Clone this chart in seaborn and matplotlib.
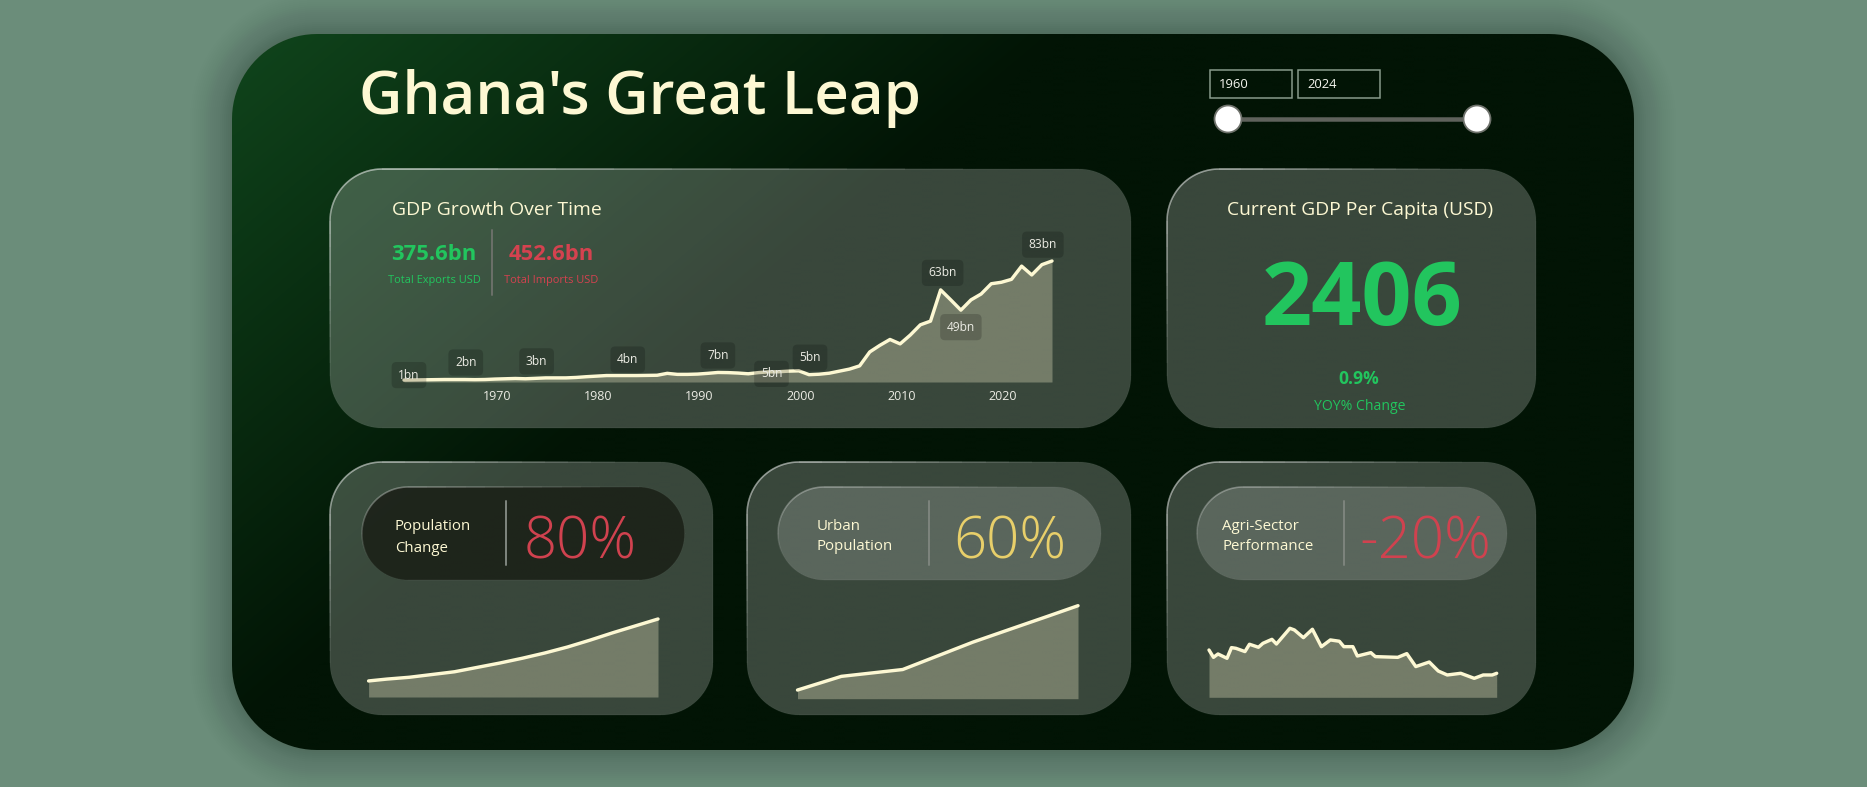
import numpy as np
import matplotlib
matplotlib.use("Agg")
import matplotlib.pyplot as plt
import seaborn as sns
from matplotlib.collections import LineCollection
from matplotlib.patches import Circle, PathPatch, Rectangle
from matplotlib.path import Path
from matplotlib.transforms import ScaledTranslation

W, H = 1867, 787

# GDP in USD bn
gdp_years = list(range(1961, 2026))
gdp_values = [1.3, 1.4, 1.5, 1.6, 1.7, 1.7, 1.7, 1.6, 1.7, 2.0, 2.2, 2.4, 2.2, 2.5, 2.8, 2.8, 2.8, 3.1, 3.6, 4.0,
              4.4, 4.4, 4.4, 4.4, 4.5, 4.6, 5.9, 5.2, 5.2, 5.4, 5.9, 6.5, 6.4, 6.1, 5.6, 6.4, 6.9, 7.0, 7.4, 7.6,
              5.0, 5.3, 6.0, 7.4, 8.8, 11.0, 20.5, 25.0, 29.0, 26.0, 32.0, 39.0, 41.5, 62.8, 56.0, 49.0, 56.0, 60.0, 67.0, 68.0,
              70.0, 79.0, 73.0, 80.0, 82.5]
gdp_ticks = [1970, 1980, 1990, 2000, 2010, 2020]
label_years = [1961, 1967, 1974, 1983, 1992, 1997, 2001, 2014, 2016, 2024]
label_texts = ["1bn", "2bn", "3bn", "4bn", "7bn", "5bn", "5bn", "63bn", "49bn", "83bn"]
label_dx = [5, 1, 1, 1, 0, 3, 1, 2, 0, 1]
label_dy = [5, 17, 17, 16, 17, -2, 17, 17, -17, 20]

pop_years = [1961, 1965, 1970, 1975, 1980, 1985, 1990, 1995, 2000, 2005, 2010, 2015, 2020, 2025]
pop_values = [7.0, 7.8, 8.6, 9.8, 11.0, 12.9, 14.8, 16.9, 19.2, 21.8, 24.8, 28.0, 31.0, 34.0]

urban_years = [1961, 1971, 1985, 1993, 2001, 2010, 2018, 2025]
urban_values = [23, 29, 32, 38, 44, 50, 55.3, 60]

agri_years = [1961, 1962, 1963, 1965, 1966, 1967, 1969, 1970, 1972, 1973, 1975, 1976, 1979, 1980, 1982, 1984, 1986, 1988,
              1990, 1991, 1993, 1994, 1997, 1998, 2003, 2005, 2007, 2010, 2012, 2014, 2017, 2020, 2022, 2024, 2025]
agri_values = [39.4, 33.3, 36.1, 32.5, 41.4, 40.8, 38.1, 44.2, 41.7, 45.0, 48.3, 44.4, 57.5, 56.1, 49.7, 56.7, 42.2, 47.8,
               46.7, 42.2, 42.2, 34.4, 37.2, 33.9, 33.3, 36.4, 25.6, 29.4, 21.9, 18.6, 20.0, 15.8, 18.6, 18.6, 20.0]

SAGE = "#6b8d7a"
CREAM = "#fdf8d3"
GREEN = "#22c55e"
RED = "#d0424f"
YELLOW = "#e8cf6a"
FONT = "Open Sans"

sns.set_theme(style="white")
plt.rcParams["font.family"] = [FONT, "DejaVu Sans"]


def px(size):
    return size * 0.72


def rounded_path(x0, y0, x1, y1, r):
    pts = []
    for cx, cy, start in [(x1 - r, y0 + r, -90), (x1 - r, y1 - r, 0), (x0 + r, y1 - r, 90), (x0 + r, y0 + r, 180)]:
        ang = np.radians(np.linspace(start, start + 90, 24))
        pts.append(np.column_stack([cx + r * np.cos(ang), cy + r * np.sin(ang)]))
    pts = np.vstack(pts + [pts[0][:1]])
    return Path(pts, closed=True)


def draw_card(ax, x0, y0, x1, y1, r, color="white", alpha=0.22, edge=0.75):
    path = rounded_path(x0, y0, x1, y1, r)
    ax.add_patch(PathPatch(path, fc=color, alpha=alpha, ec="none", zorder=2))
    # bright rim on the top left, fading towards the bottom right
    v = path.interpolated(12).vertices
    segs = np.stack([v[:-1], v[1:]], axis=1)
    mid = segs.mean(axis=1)
    t = (mid[:, 0] - x0) / (x1 - x0) + (mid[:, 1] - y0) / (y1 - y0)
    al = np.clip(edge * (1 - t / 0.85), 0.04, 1)
    cols = np.column_stack([np.ones((len(al), 3)), al])
    ax.add_collection(LineCollection(segs, colors=cols, linewidths=px(1.6), zorder=3, capstyle="butt"))


def chart_axes(fig, x0, x1, base, top):
    a = fig.add_axes([x0 / W, 1 - base / H, (x1 - x0) / W, (base - top) / H], zorder=2)
    a.patch.set_visible(False)
    return a


def area_line(a, years, values, ymin=0):
    a.fill_between(years, ymin, values, color=CREAM, alpha=0.3, lw=0)
    sns.lineplot(x=years, y=values, ax=a, color=CREAM, linewidth=px(3.4), errorbar=None, clip_on=False,
                 solid_capstyle="round", solid_joinstyle="round")
    a.set_xlim(min(years), max(years))
    a.set_ylim(ymin, max(values))
    a.set_xlabel("")
    a.set_ylabel("")
    a.set_yticks([])
    a.set_xticks([])
    sns.despine(ax=a, left=True, bottom=True)


fig = plt.figure(figsize=(W / 100, H / 100), dpi=100, facecolor=SAGE)
bg = fig.add_axes([0, 0, 1, 1], zorder=0)
bg.set_xlim(0, W)
bg.set_ylim(H, 0)
bg.axis("off")

# soft shadow round the dark panel
for d in np.arange(44, 0, -2):
    bg.add_patch(PathPatch(rounded_path(232 - d, 34 - d, 1634 + d, 750 + d, 85 + d), fc="black",
                           alpha=0.0007 * (46 - d) ** 0.75, ec="none", zorder=0.5))

# dark panel with diagonal gradient
panel = PathPatch(rounded_path(232, 34, 1634, 750, 85), fc="none", ec="none", zorder=1)
bg.add_patch(panel)
xx, yy = np.meshgrid(np.linspace(232, 1634, 350), np.linspace(34, 750, 180))
t = np.clip((xx - 232) / 830 + (yy - 34) / 700, 0, 1)[..., None]
start = np.array([0x10, 0x45, 0x1c]) / 255
end = np.array([0x02, 0x14, 0x05]) / 255
im = bg.imshow(start * (1 - t) + end * t, extent=(232, 1634, 750, 34), aspect="auto", zorder=1, interpolation="bilinear")
im.set_clip_path(panel)
bg.set_xlim(0, W)
bg.set_ylim(H, 0)

bg.text(359, 98, "Ghana's Great Leap", color=CREAM, fontsize=px(60), fontweight=600, ha="left", va="center", zorder=5)

# year range inputs and slider
for x0, lab in [(1210, "1960"), (1298, "2024")]:
    bg.add_patch(Rectangle((x0, 69.5), 82, 28, fc="none", ec="#8a9d8d", lw=px(1.5), zorder=5))
    bg.text(x0 + 9, 84, lab, color="#f4f5ee", fontsize=px(13), ha="left", va="center", zorder=5)
bg.plot([1228, 1477], [119, 119], color="#5f625c", lw=px(4.5), solid_capstyle="butt", zorder=5)
for cx in (1228, 1477):
    bg.add_patch(Circle((cx, 119), 13.5, fc="white", ec="#6e716b", lw=px(1.8), zorder=6))

# cards
draw_card(bg, 330, 169, 1131, 428, 52)
draw_card(bg, 1167, 169, 1536, 428, 52)
draw_card(bg, 330, 462, 713, 715, 52)
draw_card(bg, 747, 462, 1131, 715, 52)
draw_card(bg, 1167, 462, 1536, 715, 52)

# GDP card texts
bg.text(392, 210, "GDP Growth Over Time", color=CREAM, fontsize=px(19.4), ha="left", va="center", zorder=5)
bg.text(434, 255, "375.6bn", color="#22c55e", fontsize=px(22), fontweight="bold", ha="center", va="center", zorder=5)
bg.text(551, 255, "452.6bn", color="#d4424f", fontsize=px(22), fontweight="bold", ha="center", va="center", zorder=5)
bg.text(434, 281, "Total Exports USD", color="#22c55e", fontsize=px(11), ha="center", va="center", zorder=5)
bg.text(551, 281, "Total Imports USD", color="#d4424f", fontsize=px(11), ha="center", va="center", zorder=5)
bg.plot([491.5, 491.5], [230, 295], color="#6a6f68", lw=px(2), zorder=5)

# per capita card texts
bg.text(1360, 210, "Current GDP Per Capita (USD)", color=CREAM, fontsize=px(19.3), ha="center", va="center", zorder=5)
bg.text(1362, 302, "2406", color=GREEN, fontsize=px(88), fontweight="bold", ha="center", va="center", zorder=5)
bg.text(1359, 379, "0.9%", color=GREEN, fontsize=px(17.5), fontweight="bold", ha="center", va="center", zorder=5)
bg.text(1360, 406, "YOY% Change", color=GREEN, fontsize=px(14), ha="center", va="center", zorder=5)

# metric pills
pills = [
    (362, 684.5, "#1a1f16", 0.85, 505.7, 395, ["Population", "Change"], 527, 549, "80%", 580.5, RED),
    (778, 1101, "white", 0.17, 929, 817, ["Urban", "Population"], 526, 547, "60%", 1010, YELLOW),
    (1197, 1507, "white", 0.17, 1344, 1222, ["Agri-Sector", "Performance"], 526, 547, "-20%", 1425.5, RED),
]
for x0, x1, col, alpha, div_x, txt_x, lines, y1, y2, big, big_x, big_col in pills:
    draw_card(bg, x0, 487, x1, 580, 46, color=col, alpha=alpha, edge=0.45)
    bg.plot([div_x, div_x], [501, 565], color="#7c837c", lw=px(2), zorder=5)
    bg.text(txt_x, y1, lines[0], color=CREAM, fontsize=px(15), ha="left", va="center", zorder=5)
    bg.text(txt_x, y2, lines[1], color=CREAM, fontsize=px(15), ha="left", va="center", zorder=5)
    bg.text(big_x, 543, big, color=big_col, fontsize=px(58), fontweight=300, ha="center", va="center", zorder=5)

# main GDP chart
ax = chart_axes(fig, 404, 1052, 382, 261)
area_line(ax, gdp_years, gdp_values)
ax.set_xticks(gdp_ticks)
ax.set_xticklabels([str(y) for y in gdp_ticks])
ax.tick_params(axis="x", length=0, pad=px(8), labelsize=px(12.5), labelcolor="#ecece4")
for lab in ax.get_xticklabels():
    lab.set_transform(lab.get_transform() + ScaledTranslation(0.018, 0, fig.dpi_scale_trans))
for year, text, dx, dy in zip(label_years, label_texts, label_dx, label_dy):
    ax.annotate(text, xy=(year, gdp_values[gdp_years.index(year)]), xytext=(px(dx), px(dy)), textcoords="offset points",
                ha="center", va="center", fontsize=px(12), color="#ecece4", annotation_clip=False,
                bbox=dict(boxstyle="round,pad=0.55,rounding_size=0.4", fc=(0, 0, 0, 0.18), ec="none"))

# sparklines
area_line(chart_axes(fig, 368.6, 658, 697, 619), pop_years, pop_values)
area_line(chart_axes(fig, 797.5, 1078, 698.7, 605.7), urban_years, urban_values, ymin=19.2)
area_line(chart_axes(fig, 1209, 1496.7, 697.3, 628.3), agri_years, agri_values)

fig.savefig("out.png", dpi=100, facecolor=SAGE)
